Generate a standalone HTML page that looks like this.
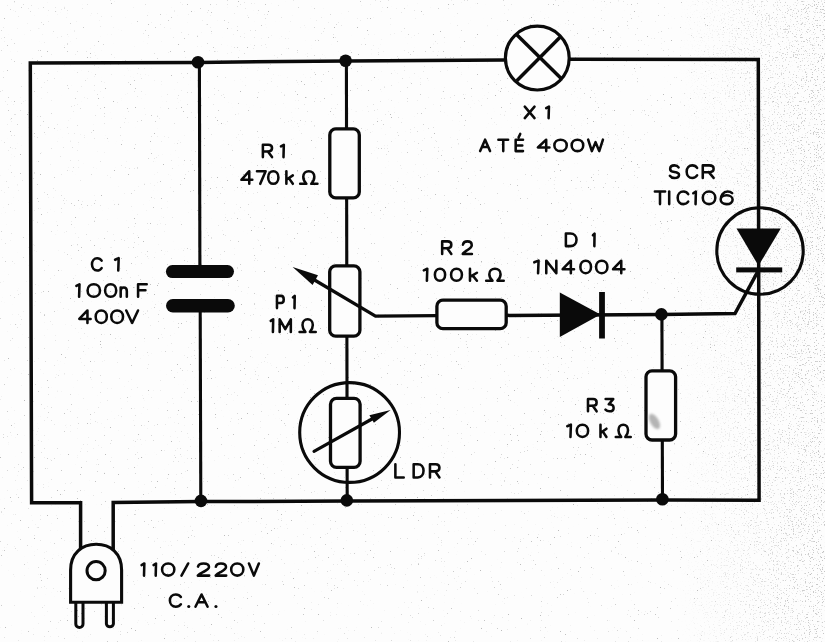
<!DOCTYPE html>
<html><head><meta charset="utf-8"><style>
html,body{margin:0;padding:0;background:#fdfdfd;}
svg{display:block;will-change:transform;}
</style></head><body>
<svg width="825" height="642" viewBox="0 0 825 642"><filter id="sp" x="0" y="0" width="825" height="642" filterUnits="userSpaceOnUse"><feTurbulence type="fractalNoise" baseFrequency="0.7" numOctaves="2" seed="7"/><feColorMatrix type="matrix" values="0 0 0 0 0.5  0 0 0 0 0.5  0 0 0 0 0.5  10 0 0 0 -7.4"/><feGaussianBlur stdDeviation="0.45"/></filter>
<rect x="0" y="0" width="825" height="642" filter="url(#sp)" fill="#fff"/>
<filter id="sp2" x="0" y="0" width="825" height="642" filterUnits="userSpaceOnUse"><feTurbulence type="fractalNoise" baseFrequency="0.75" numOctaves="2" seed="11"/><feColorMatrix type="matrix" values="0 0 0 0 0.55  0 0 0 0 0.55  0 0 0 0 0.55  10 0 0 0 -6.3"/><feGaussianBlur stdDeviation="0.45"/></filter>
<linearGradient id="gr" x1="0" y1="0" x2="1" y2="0"><stop offset="0" stop-color="#000"/><stop offset="0.55" stop-color="#000"/><stop offset="1" stop-color="#fff"/></linearGradient><mask id="mk" maskUnits="userSpaceOnUse" x="0" y="0" width="825" height="642"><rect x="500" y="0" width="325" height="642" fill="url(#gr)"/></mask>
<g mask="url(#mk)"><rect x="0" y="0" width="825" height="642" filter="url(#sp2)" fill="#fff"/></g>
<polyline points="80.6,552 80.6,502.8 31.6,502.8 30.3,63 198,62.4 346.5,61 504.5,60.1" fill="none" stroke="#0a0a0a" stroke-width="3.5" stroke-linejoin="miter"/>
<polyline points="570,59.3 758.3,59.6 759.1,500.2 662.4,500 347,501.1 201,501.6 113.2,502.4 113.2,552" fill="none" stroke="#0a0a0a" stroke-width="3.5" stroke-linejoin="miter"/>
<line x1="199.4" y1="62" x2="199.9" y2="271" stroke="#0a0a0a" stroke-width="3.1"/>
<line x1="200.2" y1="306" x2="200.8" y2="501" stroke="#0a0a0a" stroke-width="3.1"/>
<line x1="172.4" y1="271.6" x2="227.5" y2="271.6" stroke="#0a0a0a" stroke-width="13" stroke-linecap="round"/>
<line x1="172.8" y1="305.8" x2="228" y2="305.8" stroke="#0a0a0a" stroke-width="13.6" stroke-linecap="round"/>
<line x1="346.4" y1="61" x2="347.2" y2="500.6" stroke="#0a0a0a" stroke-width="3.1"/>
<rect x="329.8" y="128.9" width="29.5" height="69" rx="6" fill="#fdfdfd" stroke="#0a0a0a" stroke-width="3.3"/>
<rect x="329.7" y="265.8" width="30.2" height="70.4" rx="6" fill="#fdfdfd" stroke="#0a0a0a" stroke-width="3.3"/>
<polyline points="312,278.5 375.5,316.2 437,315.6" fill="none" stroke="#0a0a0a" stroke-width="3.3" stroke-linejoin="miter"/>
<polygon points="292.6,266.9 318,275.2 312.6,285" fill="#0a0a0a"/>
<rect x="436.9" y="300.2" width="69.3" height="28.5" rx="6" fill="#fdfdfd" stroke="#0a0a0a" stroke-width="3.3"/>
<polyline points="506,315.4 661.4,314.4 735,313.6 757.6,271.8" fill="none" stroke="#0a0a0a" stroke-width="3.5" stroke-linejoin="miter"/>
<polygon points="559.8,292.6 559.8,337 600.5,314.6" fill="#0a0a0a"/>
<rect x="599.1" y="292" width="5.8" height="46.5" fill="#0a0a0a"/>
<circle cx="198" cy="62.3" r="6.3" fill="#0a0a0a"/>
<circle cx="345.6" cy="60.8" r="6.3" fill="#0a0a0a"/>
<circle cx="661.4" cy="314.4" r="6.3" fill="#0a0a0a"/>
<circle cx="662.4" cy="499.3" r="6.3" fill="#0a0a0a"/>
<circle cx="346.8" cy="500.4" r="6.3" fill="#0a0a0a"/>
<circle cx="201" cy="500.9" r="6.3" fill="#0a0a0a"/>
<line x1="661.9" y1="314" x2="662.5" y2="499" stroke="#0a0a0a" stroke-width="3.1"/>
<rect x="646" y="370.8" width="29.6" height="69.2" rx="6" fill="#fdfdfd" stroke="#0a0a0a" stroke-width="3.3"/>
<filter id="bl" x="-50%" y="-50%" width="200%" height="200%"><feGaussianBlur stdDeviation="1.2"/></filter>
<ellipse cx="654.5" cy="421.5" rx="4.2" ry="8.5" transform="rotate(-30 654.5 421.5)" fill="#b4b4b4" filter="url(#bl)"/>
<circle cx="537.3" cy="58.1" r="31.9" fill="#fdfdfd" stroke="#0a0a0a" stroke-width="3.2"/>
<line x1="516.8" y1="34.8" x2="561.2" y2="78.5" stroke="#0a0a0a" stroke-width="3.5"/>
<line x1="560" y1="37.3" x2="516.8" y2="80.8" stroke="#0a0a0a" stroke-width="3.5"/>
<circle cx="760" cy="251" r="43.2" fill="none" stroke="#0a0a0a" stroke-width="3.1"/>
<polygon points="736.5,228.4 780.8,228.4 758.5,265.8" fill="#0a0a0a"/>
<rect x="736.2" y="267.4" width="46" height="5" fill="#0a0a0a"/>
<circle cx="349.6" cy="432.5" r="49.9" fill="none" stroke="#0a0a0a" stroke-width="3.1"/>
<rect x="330.5" y="398.3" width="29.6" height="69" rx="6" fill="#fdfdfd" stroke="#0a0a0a" stroke-width="3.3"/>
<line x1="314" y1="451.3" x2="372" y2="419" stroke="#0a0a0a" stroke-width="3.2" stroke-linecap="round"/>
<polygon points="390.6,410 369.4,415.2 373.9,422.8" fill="#0a0a0a"/>
<path d="M70.6,602.2 L70.6,570 C70.6,553 82,544.3 96.2,544.3 C110.4,544.3 121.6,553 121.6,570 L121.6,602.2 Z" fill="#fdfdfd" stroke="#0a0a0a" stroke-width="3.1"/>
<circle cx="96.1" cy="570.7" r="9.1" fill="none" stroke="#0a0a0a" stroke-width="3"/>
<path d="M75.8,603 L75.8,624 A3.6,3.6 0 0 0 83,624 L83,603" fill="none" stroke="#0a0a0a" stroke-width="3"/>
<path d="M106.4,603 L106.4,624 A3.6,3.6 0 0 0 113.4,624 L113.4,603" fill="none" stroke="#0a0a0a" stroke-width="3"/><g fill="none" stroke="#0a0a0a" stroke-width="2.55" stroke-linecap="round" stroke-linejoin="round"><path d="M 262.88,157.12 L 262.88,144.78 L 268.37,144.78 C 270.65,144.78 272.03,146.13 272.03,148.11 C 272.03,150.09 270.65,151.44 268.37,151.44 L 262.88,151.44 M 267.91,151.44 L 272.03,157.12"/>
<path d="M 280.97,146.38 L 283.82,144.78 L 283.49,157.12"/>
<path d="M 249.26,183.82 L 249.26,171.18 L 241.38,179.78 L 252.32,179.78"/>
<path d="M 256.97,171.18 L 265.62,171.18 L 260.26,183.82"/>
<path d="M 268.17,177.50 C 268.17,173.71 270.43,171.18 273.30,171.18 C 276.17,171.18 278.43,173.71 278.43,177.50 C 278.43,181.29 276.17,183.82 273.30,183.82 C 270.43,183.82 268.17,181.29 268.17,177.50 Z"/>
<path d="M 286.38,171.18 L 286.38,183.82 M 292.83,175.35 L 286.38,179.78 M 288.83,178.13 L 292.83,183.82"/>
<path d="M 300.17,183.82 L 306.38,183.82 C 304.49,181.93 303.28,179.40 303.28,176.87 C 303.28,173.45 305.69,171.18 308.80,171.18 C 311.90,171.18 314.32,173.45 314.32,176.87 C 314.32,179.40 313.11,181.93 311.21,183.82 L 317.43,183.82"/>
<path d="M 101.63,260.64 C 100.63,259.04 98.94,258.17 97.15,258.17 C 94.16,258.17 91.98,260.89 91.98,264.35 C 91.98,267.81 94.16,270.53 97.15,270.53 C 98.94,270.53 100.63,269.66 101.63,268.06"/>
<path d="M 115.08,259.78 L 118.69,258.17 L 118.26,270.53"/>
<path d="M 76.38,285.89 L 79.48,284.27 L 79.11,296.73"/>
<path d="M 87.58,290.50 C 87.58,286.76 90.31,284.27 93.80,284.27 C 97.29,284.27 100.02,286.76 100.02,290.50 C 100.02,294.24 97.29,296.73 93.80,296.73 C 90.31,296.73 87.58,294.24 87.58,290.50 Z"/>
<path d="M 105.08,290.50 C 105.08,286.76 107.53,284.27 110.65,284.27 C 113.77,284.27 116.22,286.76 116.22,290.50 C 116.22,294.24 113.77,296.73 110.65,296.73 C 107.53,296.73 105.08,294.24 105.08,290.50 Z"/>
<path d="M 120.68,287.51 L 120.68,296.73 M 120.68,291.12 C 120.68,288.76 121.91,287.51 123.75,287.51 C 125.59,287.51 126.82,288.76 126.82,291.12 L 126.82,296.73"/>
<path d="M 146.72,284.27 L 138.08,284.27 L 138.08,296.73 M 138.08,290.25 L 145.43,290.25"/>
<path d="M 87.45,322.93 L 87.45,310.47 L 79.28,318.94 L 90.62,318.94"/>
<path d="M 95.68,316.70 C 95.68,312.96 98.13,310.47 101.25,310.47 C 104.37,310.47 106.82,312.96 106.82,316.70 C 106.82,320.44 104.37,322.93 101.25,322.93 C 98.13,322.93 95.68,320.44 95.68,316.70 Z"/>
<path d="M 111.28,316.70 C 111.28,312.96 113.86,310.47 117.15,310.47 C 120.44,310.47 123.02,312.96 123.02,316.70 C 123.02,320.44 120.44,322.93 117.15,322.93 C 113.86,322.93 111.28,320.44 111.28,316.70 Z"/>
<path d="M 126.28,310.47 L 132.15,322.93 L 138.03,310.47"/>
<path d="M 276.97,308.12 L 276.97,295.88 L 281.02,295.88 C 282.71,295.88 283.73,297.35 283.73,299.43 C 283.73,301.51 282.71,302.98 281.02,302.98 L 276.97,302.98"/>
<path d="M 292.97,297.47 L 294.72,295.88 L 294.51,308.12"/>
<path d="M 270.77,320.92 L 273.20,319.27 L 272.91,331.93"/>
<path d="M 279.67,331.93 L 279.67,319.27 L 285.25,329.14 L 290.83,319.27 L 290.83,331.93"/>
<path d="M 299.57,331.93 L 305.39,331.93 C 303.61,330.03 302.48,327.50 302.48,324.97 C 302.48,321.55 304.74,319.27 307.65,319.27 C 310.56,319.27 312.82,321.55 312.82,324.97 C 312.82,327.50 311.69,330.03 309.91,331.93 L 315.73,331.93"/>
<path d="M 524.77,106.68 L 534.52,118.12 M 534.52,106.68 L 524.77,118.12"/>
<path d="M 546.17,108.16 L 548.94,106.68 L 548.61,118.12"/>
<path d="M 480.17,151.12 L 485.10,139.68 L 490.03,151.12 M 482.14,147.00 L 488.06,147.00"/>
<path d="M 498.38,139.68 L 508.12,139.68 M 503.25,139.68 L 503.25,151.12"/>
<path d="M 523.02,139.68 L 515.67,139.68 L 515.67,151.12 L 523.02,151.12 M 515.67,145.40 L 522.29,145.40 M 518.62,137.39 L 520.23,133.95"/>
<path d="M 546.19,151.12 L 546.19,139.68 L 537.88,147.46 L 549.43,147.46"/>
<path d="M 554.38,145.40 C 554.38,141.97 557.09,139.68 560.55,139.68 C 564.01,139.68 566.73,141.97 566.73,145.40 C 566.73,148.84 564.01,151.12 560.55,151.12 C 557.09,151.12 554.38,148.84 554.38,145.40 Z"/>
<path d="M 571.67,145.40 C 571.67,141.97 574.22,139.68 577.45,139.68 C 580.68,139.68 583.23,141.97 583.23,145.40 C 583.23,148.84 580.68,151.12 577.45,151.12 C 574.22,151.12 571.67,148.84 571.67,145.40 Z"/>
<path d="M 588.17,139.68 L 591.86,151.12 L 595.55,142.19 L 599.24,151.12 L 602.93,139.68"/>
<path d="M 678.57,167.38 C 677.74,166.00 676.28,165.38 674.45,165.38 C 671.89,165.38 670.15,166.76 670.15,168.89 C 670.15,171.02 671.71,171.65 674.45,172.03 C 677.19,172.40 679.02,173.16 679.02,174.91 C 679.02,176.80 677.19,177.92 674.45,177.92 C 672.44,177.92 670.79,177.17 669.88,175.79"/>
<path d="M 697.10,167.88 C 696.03,166.25 694.20,165.38 692.26,165.38 C 689.04,165.38 686.67,168.14 686.67,171.65 C 686.67,175.16 689.04,177.92 692.26,177.92 C 694.20,177.92 696.03,177.05 697.10,175.41"/>
<path d="M 702.77,177.92 L 702.77,165.38 L 709.28,165.38 C 712.00,165.38 713.62,166.76 713.62,168.76 C 713.62,170.77 712.00,172.15 709.28,172.15 L 702.77,172.15 M 708.74,172.15 L 713.62,177.92"/>
<path d="M 654.88,191.58 L 665.12,191.58 M 660.00,191.58 L 660.00,204.12"/>
<path d="M 669.20,191.58 L 669.20,204.12"/>
<path d="M 688.20,194.09 C 687.11,192.45 685.27,191.58 683.32,191.58 C 680.06,191.58 677.67,194.34 677.67,197.85 C 677.67,201.36 680.06,204.12 683.32,204.12 C 685.27,204.12 687.11,203.25 688.20,201.62"/>
<path d="M 693.27,193.21 L 695.87,191.58 L 695.56,204.12"/>
<path d="M 702.77,197.85 C 702.77,194.09 705.54,191.58 709.05,191.58 C 712.56,191.58 715.33,194.09 715.33,197.85 C 715.33,201.62 712.56,204.12 709.05,204.12 C 705.54,204.12 702.77,201.62 702.77,197.85 Z"/>
<path d="M 720.67,199.61 C 720.67,197.35 723.06,195.34 726.65,195.34 C 730.24,195.34 732.62,197.35 732.62,199.73 C 732.62,202.24 730.24,204.12 726.65,204.12 C 723.06,204.12 720.67,202.24 720.67,199.61 C 720.67,195.34 723.30,191.58 727.61,191.58 C 729.76,191.58 731.19,192.20 732.15,193.08"/>
<path d="M 442.17,253.92 L 442.17,241.38 L 447.67,241.38 C 449.95,241.38 451.33,242.76 451.33,244.76 C 451.33,246.77 449.95,248.15 447.67,248.15 L 442.17,248.15 M 447.21,248.15 L 451.33,253.92"/>
<path d="M 462.96,244.64 C 463.32,242.63 465.06,241.38 467.35,241.38 C 469.91,241.38 471.74,242.88 471.74,245.14 C 471.74,247.40 469.64,248.65 466.89,250.41 C 464.60,251.92 462.77,252.92 462.77,253.92 L 471.93,253.92"/>
<path d="M 423.77,270.33 L 427.30,268.77 L 426.89,280.73"/>
<path d="M 434.88,274.75 C 434.88,271.16 437.13,268.77 440.00,268.77 C 442.87,268.77 445.12,271.16 445.12,274.75 C 445.12,278.34 442.87,280.73 440.00,280.73 C 437.13,280.73 434.88,278.34 434.88,274.75 Z"/>
<path d="M 451.07,274.75 C 451.07,271.16 453.46,268.77 456.50,268.77 C 459.54,268.77 461.93,271.16 461.93,274.75 C 461.93,278.34 459.54,280.73 456.50,280.73 C 453.46,280.73 451.07,278.34 451.07,274.75 Z"/>
<path d="M 469.97,268.77 L 469.97,280.73 M 476.93,272.72 L 469.97,276.90 M 472.62,275.35 L 476.93,280.73"/>
<path d="M 486.17,280.73 L 492.49,280.73 C 490.56,278.93 489.33,276.54 489.33,274.15 C 489.33,270.93 491.79,268.77 494.95,268.77 C 498.11,268.77 500.57,270.93 500.57,274.15 C 500.57,276.54 499.34,278.93 497.41,280.73 L 503.73,280.73"/>
<path d="M 565.88,233.58 L 565.88,246.12 L 570.35,246.12 C 574.18,246.12 576.52,243.36 576.52,239.85 C 576.52,236.34 574.18,233.58 570.35,233.58 Z"/>
<path d="M 592.98,235.21 L 594.55,233.58 L 594.36,246.12"/>
<path d="M 534.27,262.31 L 538.57,260.67 L 538.06,273.23"/>
<path d="M 546.27,273.23 L 546.27,260.67 L 556.33,273.23 L 556.33,260.67"/>
<path d="M 570.85,273.23 L 570.85,260.67 L 562.67,269.21 L 574.02,269.21"/>
<path d="M 580.38,266.95 C 580.38,263.18 582.72,260.67 585.70,260.67 C 588.68,260.67 591.02,263.18 591.02,266.95 C 591.02,270.72 588.68,273.23 585.70,273.23 C 582.72,273.23 580.38,270.72 580.38,266.95 Z"/>
<path d="M 596.07,266.95 C 596.07,263.18 598.57,260.67 601.75,260.67 C 604.93,260.67 607.43,263.18 607.43,266.95 C 607.43,270.72 604.93,273.23 601.75,273.23 C 598.57,273.23 596.07,270.72 596.07,266.95 Z"/>
<path d="M 621.25,273.23 L 621.25,260.67 L 613.07,269.21 L 624.43,269.21"/>
<path d="M 587.98,411.33 L 587.98,399.07 L 593.16,399.07 C 595.33,399.07 596.62,400.42 596.62,402.38 C 596.62,404.34 595.33,405.69 593.16,405.69 L 587.98,405.69 M 592.73,405.69 L 596.62,411.33"/>
<path d="M 605.64,399.07 L 613.22,399.07 L 608.74,404.22 C 612.00,404.22 613.62,405.94 613.62,407.90 C 613.62,410.10 612.00,411.33 609.55,411.33 C 607.92,411.33 606.45,410.71 605.48,409.61"/>
<path d="M 567.27,426.27 L 570.89,424.67 L 570.46,436.93"/>
<path d="M 576.77,430.80 C 576.77,427.12 579.27,424.67 582.45,424.67 C 585.63,424.67 588.12,427.12 588.12,430.80 C 588.12,434.48 585.63,436.93 582.45,436.93 C 579.27,436.93 576.77,434.48 576.77,430.80 Z"/>
<path d="M 600.48,424.67 L 600.48,436.93 M 606.43,428.72 L 600.48,433.00 M 602.74,431.41 L 606.43,436.93"/>
<path d="M 615.77,436.93 L 621.16,436.93 C 619.51,435.09 618.47,432.64 618.47,430.19 C 618.47,426.88 620.56,424.67 623.25,424.67 C 625.94,424.67 628.03,426.88 628.03,430.19 C 628.03,432.64 626.99,435.09 625.34,436.93 L 630.73,436.93"/>
<path d="M 395.38,464.27 L 395.38,477.43 L 403.73,477.43"/>
<path d="M 413.67,464.27 L 413.67,477.43 L 417.81,477.43 C 421.36,477.43 423.53,474.53 423.53,470.85 C 423.53,467.17 421.36,464.27 417.81,464.27 Z"/>
<path d="M 429.97,477.43 L 429.97,464.27 L 435.64,464.27 C 438.01,464.27 439.43,465.72 439.43,467.83 C 439.43,469.93 438.01,471.38 435.64,471.38 L 429.97,471.38 M 435.17,471.38 L 439.43,477.43"/>
<path d="M 141.58,565.05 L 144.34,563.48 L 144.01,575.62"/>
<path d="M 153.58,565.05 L 156.00,563.48 L 155.71,575.62"/>
<path d="M 162.08,569.55 C 162.08,565.90 164.77,563.48 168.20,563.48 C 171.63,563.48 174.32,565.90 174.32,569.55 C 174.32,573.20 171.63,575.62 168.20,575.62 C 164.77,575.62 162.08,573.20 162.08,569.55 Z"/>
<path d="M 188.22,563.48 L 181.47,575.62"/>
<path d="M 198.00,566.63 C 198.46,564.69 200.64,563.48 203.50,563.48 C 206.71,563.48 209.00,564.93 209.00,567.12 C 209.00,569.31 206.36,570.52 202.93,572.22 C 200.06,573.68 197.78,574.65 197.78,575.62 L 209.22,575.62"/>
<path d="M 215.89,566.63 C 216.31,564.69 218.31,563.48 220.95,563.48 C 223.90,563.48 226.01,564.93 226.01,567.12 C 226.01,569.31 223.59,570.52 220.42,572.22 C 217.78,573.68 215.68,574.65 215.68,575.62 L 226.22,575.62"/>
<path d="M 231.18,569.55 C 231.18,565.90 233.85,563.48 237.25,563.48 C 240.65,563.48 243.32,565.90 243.32,569.55 C 243.32,573.20 240.65,575.62 237.25,575.62 C 233.85,575.62 231.18,573.20 231.18,569.55 Z"/>
<path d="M 248.97,563.48 L 253.90,575.62 L 258.83,563.48"/>
<path d="M 180.88,596.93 C 179.75,595.33 177.82,594.48 175.78,594.48 C 172.37,594.48 169.88,597.17 169.88,600.60 C 169.88,604.03 172.37,606.73 175.78,606.73 C 177.82,606.73 179.75,605.87 180.88,604.27"/>
<circle cx="188.75" cy="606.45" r="1.55" fill="#0a0a0a" stroke="none"/>
<path d="M 195.47,606.73 L 201.55,594.48 L 207.62,606.73 M 197.91,602.32 L 205.19,602.32"/>
<circle cx="215.95" cy="606.45" r="1.55" fill="#0a0a0a" stroke="none"/></g></svg>
</body></html>
